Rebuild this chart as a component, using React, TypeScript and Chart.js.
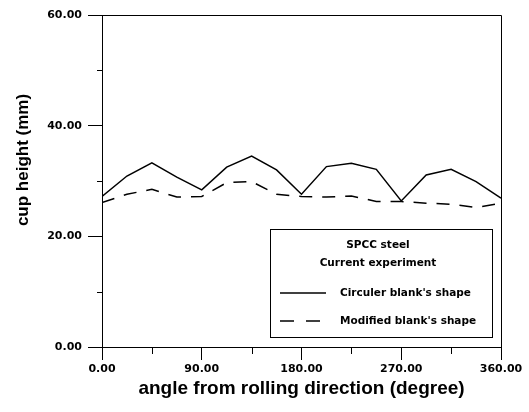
import React, { useEffect, useRef } from "react";
import { Chart, registerables } from "chart.js";

Chart.register(...registerables);

const angles = [0, 22.5, 45, 67.5, 90, 112.5, 135, 157.5, 180, 202.5, 225, 247.5, 270, 292.5, 315, 337.5, 360];
const circularShape = [27.2, 30.9, 33.3, 30.7, 28.4, 32.5, 34.5, 32.0, 27.6, 32.6, 33.2, 32.1, 26.4, 31.1, 32.1, 29.9, 26.9];
const modifiedShape = [26.1, 27.6, 28.5, 27.1, 27.2, 29.7, 29.9, 27.6, 27.2, 27.1, 27.3, 26.3, 26.3, 26.0, 25.8, 25.2, 26.0];
const xMinorTicks = [45, 135, 225, 315];
const yMinorTicks = [10, 30, 50];
const seriesLabels = ["Circuler blank's shape", "Modified blank's shape"];
const legendTitle = ["SPCC steel", "Current experiment"];
const xTitle = "angle from rolling direction (degree)";
const yTitle = "cup height (mm)";

const DASH = [13, 10];

const decorPlugin = {
  id: "decor",
  afterDraw(chart: any) {
    const ctx = chart.ctx as CanvasRenderingContext2D;
    const { left, right, top, bottom } = chart.chartArea;
    const xs = chart.scales.x;
    const ys = chart.scales.y;
    ctx.save();
    ctx.strokeStyle = "#000";
    ctx.lineWidth = 1;
    // frame top & right
    ctx.beginPath();
    ctx.moveTo(left, top + 0.5);
    ctx.lineTo(right + 0.5, top + 0.5);
    ctx.lineTo(right + 0.5, bottom);
    ctx.stroke();
    // minor ticks
    ctx.beginPath();
    for (const v of xMinorTicks) {
      const px = Math.round(xs.getPixelForValue(v)) + 0.5;
      ctx.moveTo(px, bottom);
      ctx.lineTo(px, bottom + 7);
    }
    for (const v of yMinorTicks) {
      const py = Math.round(ys.getPixelForValue(v)) + 0.5;
      ctx.moveTo(left, py);
      ctx.lineTo(left - 5, py);
    }
    ctx.stroke();

    // axis titles
    ctx.fillStyle = "#000";
    ctx.textAlign = "center";
    ctx.textBaseline = "middle";
    ctx.font = "bold 19px 'Liberation Sans', Arial, sans-serif";
    ctx.fillText(xTitle, (left + right) / 2, 389);
    ctx.save();
    ctx.translate(23, 160);
    ctx.rotate(-Math.PI / 2);
    ctx.font = "bold 17px 'Liberation Sans', Arial, sans-serif";
    ctx.fillText(yTitle, 0, 0);
    ctx.restore();

    // legend box
    const bw = 222;
    const bh = 108;
    const bx = right - 9 - bw;
    const by = bottom - 10 - bh;
    ctx.fillStyle = "#fff";
    ctx.fillRect(bx, by, bw, bh);
    ctx.strokeRect(Math.round(bx) + 0.5, Math.round(by) + 0.5, bw, bh);
    ctx.fillStyle = "#000";
    ctx.font = "bold 10.5px 'DejaVu Sans', sans-serif";
    ctx.textAlign = "center";
    ctx.fillText(legendTitle[0], bx + bw / 2 - 3, by + 16);
    ctx.fillText(legendTitle[1], bx + bw / 2 - 3, by + 34);
    ctx.textAlign = "left";
    const rows = [by + 64, by + 92];
    seriesLabels.forEach((lab, i) => {
      ctx.beginPath();
      ctx.lineWidth = 1.5;
      ctx.setLineDash(i === 0 ? [] : [14, 12]);
      ctx.moveTo(bx + 10, rows[i]);
      ctx.lineTo(bx + 56, rows[i]);
      ctx.stroke();
      ctx.setLineDash([]);
      ctx.fillText(lab, bx + 70, rows[i]);
    });
    ctx.restore();
  },
};

export default function App() {
  const ref = useRef<HTMLCanvasElement>(null);
  useEffect(() => {
    if (!ref.current) return;
    const tickFont = { family: "'DejaVu Sans', sans-serif", size: 11, weight: "bold" as const };
    const chart = new Chart(ref.current, {
      type: "line",
      data: {
        datasets: [
          {
            label: seriesLabels[0],
            data: angles.map((a, i) => ({ x: a, y: circularShape[i] })),
            borderColor: "#000",
            borderWidth: 1.5,
            pointRadius: 0,
            tension: 0,
            fill: false,
          },
          {
            label: seriesLabels[1],
            data: angles.map((a, i) => ({ x: a, y: modifiedShape[i] })),
            borderColor: "#000",
            borderWidth: 1.5,
            borderDash: DASH,
            pointRadius: 0,
            tension: 0,
            fill: false,
          },
        ],
      },
      options: {
        animation: false,
        responsive: false,
        maintainAspectRatio: false,
        layout: { padding: { left: 0, right: 28, top: 15, bottom: 0 } },
        plugins: { legend: { display: false }, tooltip: { enabled: false }, title: { display: false } },
        scales: {
          x: {
            type: "linear",
            min: 0,
            max: 360,
            ticks: {
              stepSize: 90,
              color: "#000",
              font: tickFont,
              padding: 3,
              maxRotation: 0,
              callback: (v: any) => Number(v).toFixed(2),
            },
            grid: { drawOnChartArea: false, drawTicks: true, tickLength: 13, color: "#000", lineWidth: 1 },
            border: { display: true, color: "#000", width: 1 },
            afterFit: (s: any) => {
              s.height = 65;
            },
          },
          y: {
            type: "linear",
            min: 0,
            max: 60,
            ticks: {
              stepSize: 20,
              color: "#000",
              font: tickFont,
              padding: 6,
              callback: (v: any) => Number(v).toFixed(2),
            },
            grid: { drawOnChartArea: false, drawTicks: true, tickLength: 14, color: "#000", lineWidth: 1 },
            border: { display: true, color: "#000", width: 1 },
            afterFit: (s: any) => {
              s.width = 102;
            },
          },
        },
      },
      plugins: [decorPlugin],
    });
    return () => chart.destroy();
  }, []);
  return (
    <div style={{ position: "fixed", left: 0, top: 0, width: 529, height: 412, background: "#fff" }}>
      <canvas ref={ref} width={529} height={412} style={{ display: "block" }} />
    </div>
  );
}
